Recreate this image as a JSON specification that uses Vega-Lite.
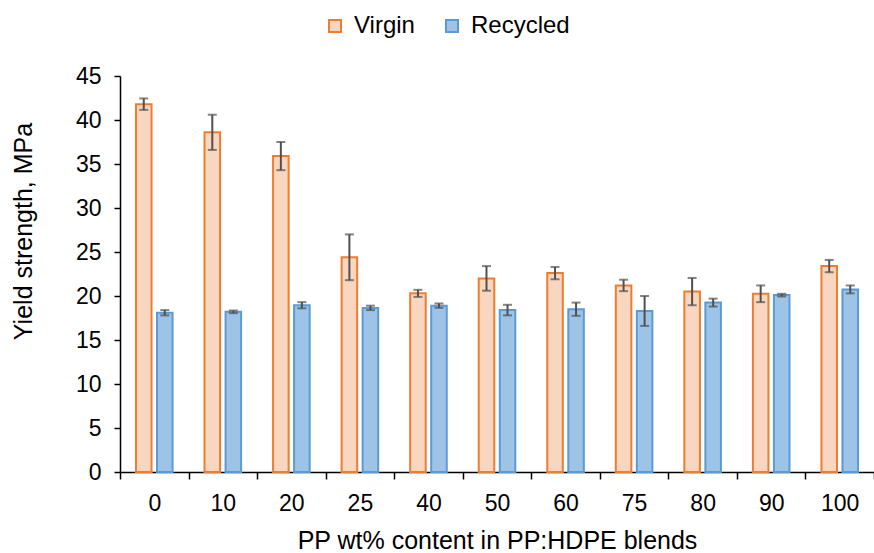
{
  "$schema": "https://vega.github.io/schema/vega-lite/v6.json",
  "width": 754,
  "height": 396,
  "autosize": {"type": "none"},
  "padding": {"left": 120, "top": 76, "right": 0, "bottom": 81},
  "background": "white",
  "config": {
    "font": "Liberation Sans",
    "view": {"stroke": null},
    "axis": {
      "labelFontSize": 23,
      "titleFontSize": 25,
      "labelColor": "#000000",
      "titleColor": "#000000",
      "titleFontWeight": "normal",
      "domainColor": "#000000",
      "tickColor": "#000000",
      "domainWidth": 1.5,
      "tickWidth": 1.5,
      "grid": false
    },
    "legend": {"labelFontSize": 24, "labelColor": "#000000"}
  },
  "data": {
    "values": [
      {"pp": "0", "series": "Virgin", "value": 41.8, "lo": 41.15, "hi": 42.45},
      {"pp": "0", "series": "Recycled", "value": 18.1, "lo": 17.8, "hi": 18.4},
      {"pp": "10", "series": "Virgin", "value": 38.6, "lo": 36.6, "hi": 40.6},
      {"pp": "10", "series": "Recycled", "value": 18.2, "lo": 18.05, "hi": 18.35},
      {"pp": "20", "series": "Virgin", "value": 35.9, "lo": 34.3, "hi": 37.5},
      {"pp": "20", "series": "Recycled", "value": 18.95, "lo": 18.6, "hi": 19.3},
      {"pp": "25", "series": "Virgin", "value": 24.4, "lo": 21.8, "hi": 27.0},
      {"pp": "25", "series": "Recycled", "value": 18.65, "lo": 18.4, "hi": 18.9},
      {"pp": "40", "series": "Virgin", "value": 20.3, "lo": 19.9, "hi": 20.7},
      {"pp": "40", "series": "Recycled", "value": 18.9, "lo": 18.65, "hi": 19.15},
      {"pp": "50", "series": "Virgin", "value": 22.0, "lo": 20.6, "hi": 23.4},
      {"pp": "50", "series": "Recycled", "value": 18.4, "lo": 17.8, "hi": 19.0},
      {"pp": "60", "series": "Virgin", "value": 22.6, "lo": 21.9, "hi": 23.3},
      {"pp": "60", "series": "Recycled", "value": 18.5, "lo": 17.75, "hi": 19.25},
      {"pp": "75", "series": "Virgin", "value": 21.2, "lo": 20.55, "hi": 21.85},
      {"pp": "75", "series": "Recycled", "value": 18.3, "lo": 16.6, "hi": 20.0},
      {"pp": "80", "series": "Virgin", "value": 20.5, "lo": 18.95, "hi": 22.05},
      {"pp": "80", "series": "Recycled", "value": 19.25, "lo": 18.8, "hi": 19.7},
      {"pp": "90", "series": "Virgin", "value": 20.25, "lo": 19.3, "hi": 21.2},
      {"pp": "90", "series": "Recycled", "value": 20.1, "lo": 19.95, "hi": 20.25},
      {"pp": "100", "series": "Virgin", "value": 23.4, "lo": 22.7, "hi": 24.1},
      {"pp": "100", "series": "Recycled", "value": 20.75, "lo": 20.3, "hi": 21.2}
    ]
  },
  "encoding": {
    "x": {
      "field": "pp",
      "type": "nominal",
      "sort": null,
      "scale": {"paddingInner": 0, "paddingOuter": 0},
      "axis": {
        "title": "PP wt% content in PP:HDPE blends",
        "labelAngle": 0,
        "tickBand": "extent",
        "tickSize": 7,
        "labelPadding": 13,
        "titlePadding": 13
      }
    },
    "xOffset": {
      "field": "series",
      "type": "nominal",
      "sort": ["Virgin", "Recycled"],
      "scale": {"paddingInner": 0.26, "paddingOuter": 0.76}
    }
  },
  "layer": [
    {
      "mark": {"type": "bar", "strokeWidth": 2},
      "encoding": {
        "y": {
          "field": "value",
          "type": "quantitative",
          "scale": {"domain": [0, 45], "nice": false},
          "axis": {
            "title": "Yield strength, MPa",
            "values": [0, 5, 10, 15, 20, 25, 30, 35, 40, 45],
            "tickSize": 6,
            "labelPadding": 13,
            "titleAngle": 270,
            "titleAlign": "center",
            "titleBaseline": "middle",
            "titleX": -97,
            "titleY": 155
          }
        },
        "fill": {
          "field": "series",
          "type": "nominal",
          "title": null,
          "scale": {"domain": ["Virgin", "Recycled"], "range": ["#F9D6BF", "#9DC3E6"]},
          "legend": {
            "orient": "none",
            "legendX": 203,
            "legendY": -62,
            "direction": "horizontal",
            "symbolType": "square",
            "symbolSize": 144,
            "symbolStrokeWidth": 2,
            "labelOffset": 7,
            "columnPadding": 25
          }
        },
        "stroke": {
          "field": "series",
          "type": "nominal",
          "title": null,
          "scale": {"domain": ["Virgin", "Recycled"], "range": ["#ED7D31", "#5B9BD5"]}
        }
      }
    },
    {
      "mark": {"type": "rule", "color": "#505050", "strokeWidth": 2},
      "encoding": {
        "y": {"field": "lo", "type": "quantitative"},
        "y2": {"field": "hi"}
      }
    },
    {
      "mark": {"type": "tick", "color": "#505050", "thickness": 2, "size": 9, "orient": "horizontal"},
      "encoding": {"y": {"field": "lo", "type": "quantitative"}}
    },
    {
      "mark": {"type": "tick", "color": "#505050", "thickness": 2, "size": 9, "orient": "horizontal"},
      "encoding": {"y": {"field": "hi", "type": "quantitative"}}
    }
  ]
}
